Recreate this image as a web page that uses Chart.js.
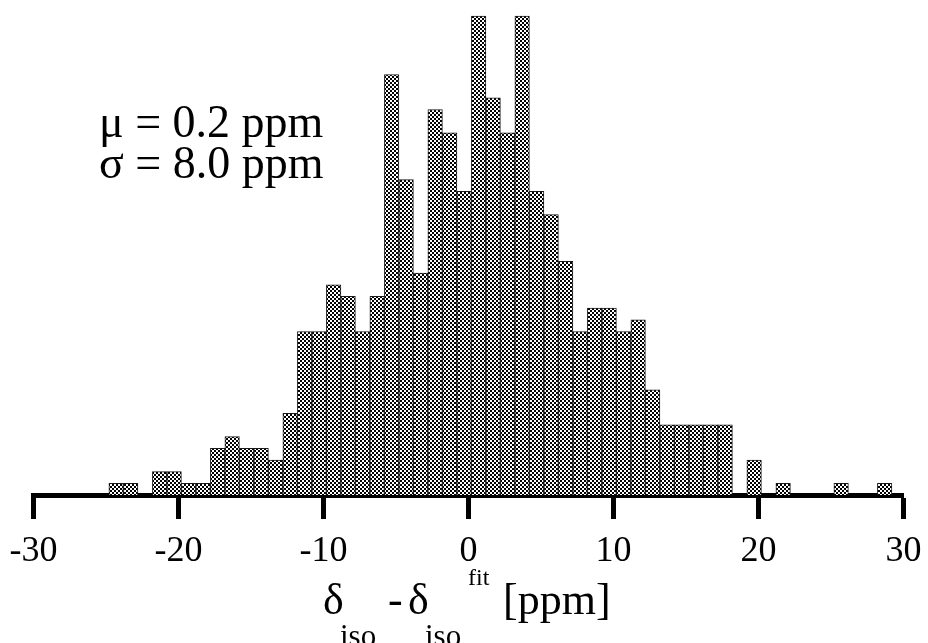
<!DOCTYPE html>
<html>
<head>
<meta charset="utf-8">
<script src="https://cdn.jsdelivr.net/npm/chart.js@4"></script>
<style>
  html, body { margin: 0; padding: 0; background: #fff; }
  #wrap { width: 928px; height: 643px; position: relative; }
</style>
</head>
<body>
<div id="wrap"><canvas id="histChart"></canvas></div>
<script>
// bin centres in ppm (bins are 1 ppm wide, first one starts at -24.8)
const binCenters = [
  -24.3, -23.3, -22.3, -21.3, -20.3, -19.3, -18.3, -17.3, -16.3, -15.3,
  -14.3, -13.3, -12.3, -11.3, -10.3, -9.3, -8.3, -7.3, -6.3, -5.3,
  -4.3, -3.3, -2.3, -1.3, -0.3, 0.7, 1.7, 2.7, 3.7, 4.7,
  5.7, 6.7, 7.7, 8.7, 9.7, 10.7, 11.7, 12.7, 13.7, 14.7,
  15.7, 16.7, 17.7, 18.7, 19.7, 20.7, 21.7, 22.7, 23.7, 24.7,
  25.7, 26.7, 27.7, 28.7
];
const counts = [
  1, 1, 0, 2, 2, 1, 1, 4, 5, 4,
  4, 3, 7, 14, 14, 18, 17, 14, 17, 36,
  27, 19, 33, 31, 26, 41, 34, 31, 41, 26,
  24, 20, 14, 16, 16, 14, 15, 9, 6, 6,
  6, 6, 6, 0, 3, 0, 1, 0, 0, 0,
  1, 0, 0, 1
];
const xTicks = [-30, -20, -10, 0, 10, 20, 30];
const statLines = ['\u03bc = 0.2 ppm', '\u03c3 = 8.0 ppm'];

// black / white checker fill like the old bitmap pattern
function checkerPattern() {
  const c = document.createElement('canvas');
  c.width = 4; c.height = 4;
  const g = c.getContext('2d');
  g.fillStyle = '#fff';
  g.fillRect(0, 0, 4, 4);
  g.fillStyle = '#000';
  g.fillRect(0, 0, 2, 2);
  g.fillRect(2, 2, 2, 2);
  return g.createPattern(c, 'repeat');
}

const serif = '"Liberation Serif", "Times New Roman", serif';

// stats text + axis title with sub/superscripts
const textPlugin = {
  id: 'texts',
  afterDraw(chart) {
    const c = chart.ctx;
    c.save();
    c.fillStyle = '#000';
    c.textBaseline = 'alphabetic';
    c.textAlign = 'left';

    c.font = '46px ' + serif;
    c.fillText(statLines[0], 99, 137);
    c.fillText(statLines[1], 99, 178);

    // δiso - δiso^fit [ppm]
    const main = '44px ' + serif;
    const sub = '31px ' + serif;
    const sup = '24px ' + serif;
    c.font = main; c.fillText('\u03b4', 323, 614);
    c.font = sub;  c.fillText('iso', 340, 646);
    c.font = main; c.fillText('-', 388, 614);
    c.font = main; c.fillText('\u03b4', 408, 614);
    c.font = sub;  c.fillText('iso', 425, 646);
    c.font = sup;  c.fillText('fit', 468, 585);
    c.font = main; c.fillText('[ppm]', 503, 614);
    c.restore();
  }
};

const ctx = document.getElementById('histChart').getContext('2d');
const histChart = new Chart(ctx, {
  type: 'bar',
  data: {
    datasets: [{
      data: binCenters.map((x, i) => ({ x: x, y: counts[i] })),
      backgroundColor: checkerPattern(),
      borderColor: '#1a1a1a',
      borderWidth: 1,
      barPercentage: 1,
      categoryPercentage: 1
    }]
  },
  options: {
    responsive: true,
    maintainAspectRatio: false,
    animation: false,
    layout: { padding: { left: 33.5, right: 24.5, top: 4.4, bottom: 0 } },
    plugins: {
      legend: { display: false },
      tooltip: { enabled: false }
    },
    scales: {
      x: {
        type: 'linear',
        min: -30,
        max: 30,
        offset: false,
        z: 1,
        afterBuildTicks: (scale) => { scale.ticks = xTicks.map(v => ({ value: v })); },
        afterFit: (scale) => { scale.height = 148; },
        grid: {
          offset: false,
          drawOnChartArea: false,
          drawTicks: true,
          tickLength: 24,
          tickWidth: 5,
          tickColor: '#000'
        },
        border: { display: true, width: 5, color: '#000' },
        ticks: {
          font: { family: serif, size: 36, lineHeight: 1.53 },
          color: '#000',
          padding: 5,
          maxRotation: 0,
          autoSkip: false
        }
      },
      y: { display: false, min: 0, max: 42 }
    }
  },
  plugins: [textPlugin]
});
</script>
</body>
</html>
